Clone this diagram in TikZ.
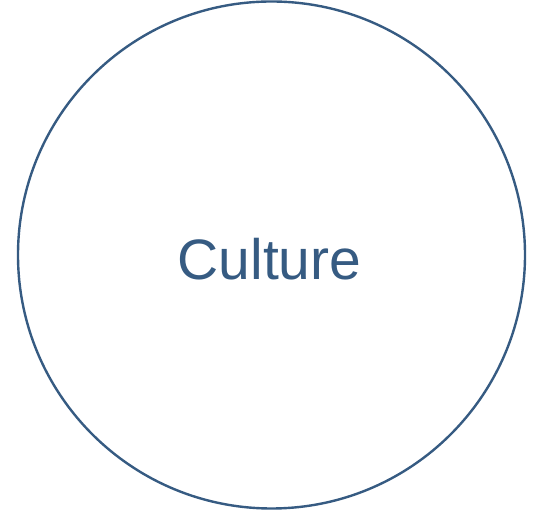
\documentclass[tikz,border=0pt]{standalone}
\usepackage{fontspec}
\setmainfont{Liberation Sans}
\definecolor{cblue}{HTML}{365B82}
\begin{document}
\begin{tikzpicture}[x=1pt,y=1pt]
\useasboundingbox (0,0) rectangle (541,513);
\node[circle, draw=cblue, line width=2.4pt, minimum size=507pt, inner sep=0pt] (c) at (271.5,258) {};
\node[anchor=base, text=cblue, font=\fontsize{57}{60}\selectfont, inner sep=0pt] (t) at (269.5,233) {Culture};
\end{tikzpicture}
\end{document}
